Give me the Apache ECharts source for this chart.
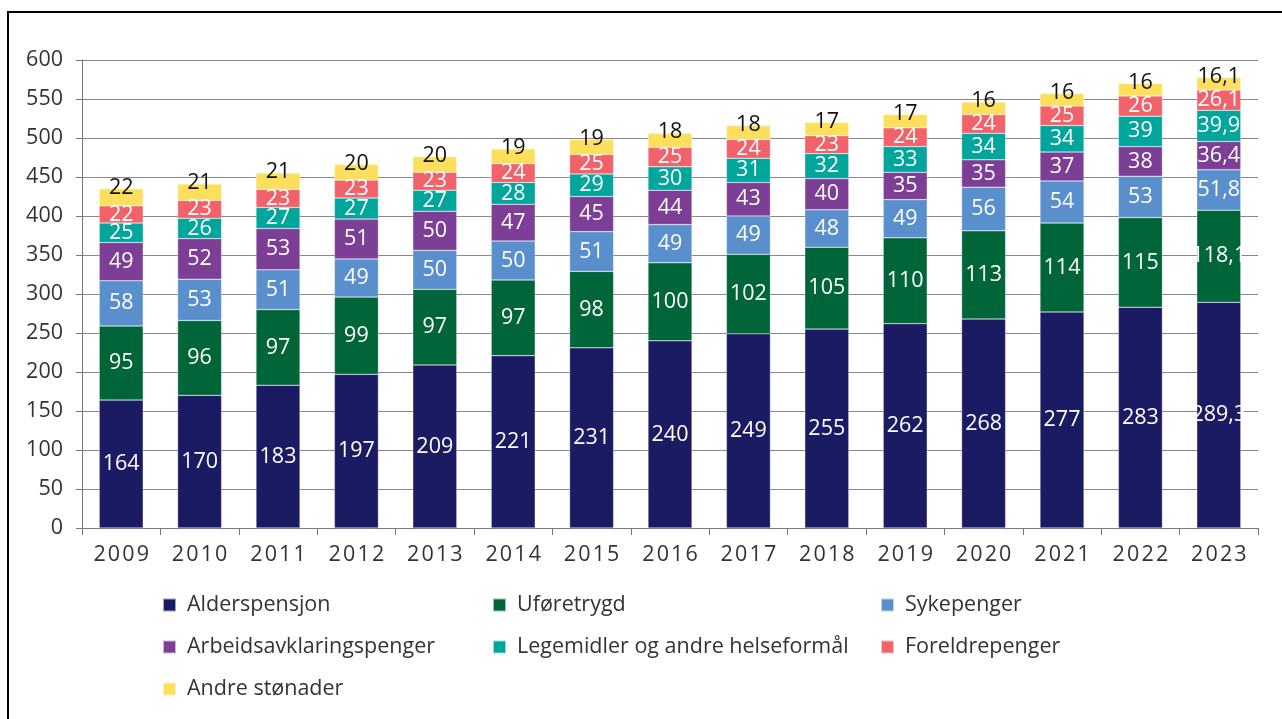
<!DOCTYPE html>
<html><head><meta charset="utf-8">
<script src="https://cdn.jsdelivr.net/npm/echarts@6/dist/echarts.min.js"></script>
<style>html,body{margin:0;padding:0;background:#fff}#c{width:1282px;height:719px}</style>
</head><body><div id="c"></div>
<script>
const years = ['2009','2010','2011','2012','2013','2014','2015','2016','2017','2018','2019','2020','2021','2022','2023'];
const yTicks = [0,50,100,150,200,250,300,350,400,450,500,550,600];
const alderspensjon = [164,170,183,197,209,221,231,240,249,255,262,268,277,283,289.3];
const uforetrygd = [95,96,97,99,97,97,98,100,102,105,110,113,114,115,118.1];
const sykepenger = [58,53,51,49,50,50,51,49,49,48,49,56,54,53,51.8];
const aap = [49,52,53,51,50,47,45,44,43,40,35,35,37,38,36.4];
const legemidler = [25,26,27,27,27,28,29,30,31,32,33,34,34,39,39.9];
const foreldrepenger = [22,23,23,23,23,24,25,25,24,23,24,24,25,26,26.1];
const andre = [22,21,21,20,20,19,19,18,18,17,17,16,16,16,16.1];

const names = ['Alderspensjon','Uføretrygd','Sykepenger','Arbeidsavklaringspenger','Legemidler og andre helseformål','Foreldrepenger','Andre stønader'];
const colors = ['#1b1b63','#00663a','#5a8fcd','#7d3e96','#00a59c','#f2626a','#fddf5c'];
const data = [alderspensjon,uforetrygd,sykepenger,aap,legemidler,foreldrepenger,andre];

const FONT = '"Open Sans", "Noto Sans", sans-serif';
const FS = 21.5;
const fmt = v => String(v).replace('.', ',');

const series = names.map((n,i)=>({
  name:n, type:'bar', stack:'total', barWidth:44,
  itemStyle:{color:colors[i], borderColor:'rgba(255,255,255,0.6)', borderWidth:0.5},
  label: i===6 ? {show:true, position:'top', distance:-10, color:'#111', fontSize:FS, fontFamily:FONT, formatter:p=>fmt(p.value)}
               : {show:true, position:'inside', color:'#fff', fontSize:FS, fontFamily:FONT, formatter:p=>fmt(p.value)},
  labelLayout:{hideOverlap:false},
  data:data[i]
}));

const legendCols = [
  {left:162, items:[names[0],names[3],names[6]]},
  {left:492, items:[names[1],names[4]]},
  {left:880, items:[names[2],names[5]]}
];

const chart = echarts.init(document.getElementById('c'), null, {renderer:'canvas'});
chart.setOption({
  animation:false,
  backgroundColor:'#fff',
  textStyle:{fontFamily:FONT},
  grid:{left:82, right:24, top:60, bottom:191, containLabel:false},
  legend: legendCols.map(c=>({
    orient:'vertical', left:c.left, top:594, padding:0, itemWidth:13, itemHeight:13, itemGap:20,
    icon:'rect', data:c.items, selectedMode:false,
    textStyle:{fontSize:FS, lineHeight:22, color:'#333', fontFamily:FONT, padding:[0,0,0,6]}
  })),
  xAxis:{
    type:'category', data:years,
    axisLine:{lineStyle:{color:'#777', width:1}},
    axisTick:{show:true, length:7, alignWithLabel:false, lineStyle:{color:'#777'}},
    axisLabel:{fontSize:FS, color:'#333', margin:16, fontFamily:FONT, formatter:v=>v.split('').join('\u200A')}
  },
  yAxis:{
    type:'value', min:yTicks[0], max:yTicks[yTicks.length-1], interval:50,
    axisLine:{show:true, lineStyle:{color:'#777', width:1}},
    axisTick:{show:true, length:6, inside:false, lineStyle:{color:'#777'}},
    axisLabel:{fontSize:FS, color:'#333', margin:19, fontFamily:FONT},
    splitLine:{lineStyle:{color:'#888', width:1}}
  },
  graphic:[{type:'rect', shape:{x:8, y:12, width:1400, height:800}, style:{fill:'none', stroke:'#000', lineWidth:2}, silent:true, z:100}],
  series:series
});
</script></body></html>
